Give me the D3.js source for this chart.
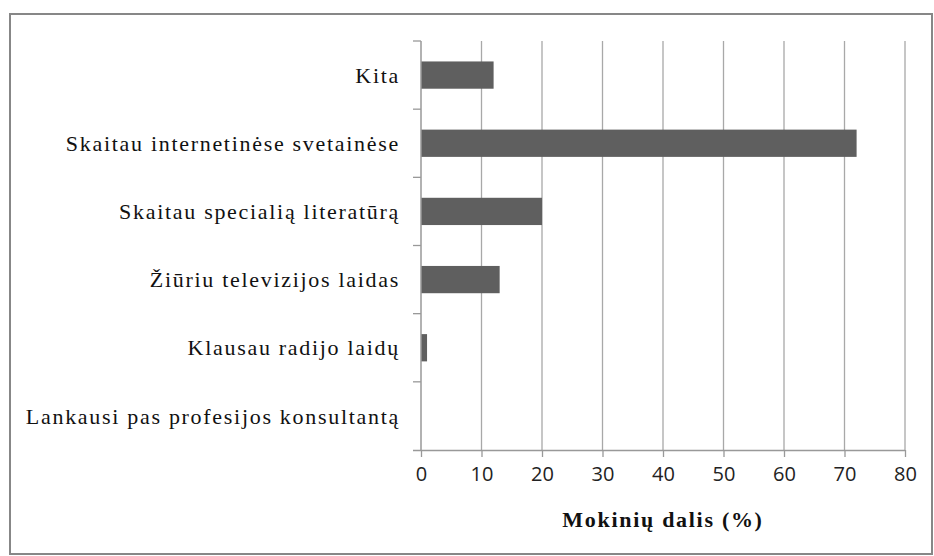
<!DOCTYPE html>
<html>
<head>
<meta charset="utf-8">
<script src="https://cdn.jsdelivr.net/npm/d3@7"></script>
<style>
  body { margin: 0; background: #fff; }
  svg { display: block; }
</style>
</head>
<body>
<div id="chart"></div>
<script>
const width = 934;
const height = 556;

// data, top to bottom as drawn
const categories = [
  "Kita",
  "Skaitau internetinėse svetainėse",
  "Skaitau specialią literatūrą",
  "Žiūriu televizijos laidas",
  "Klausau radijo laidų",
  "Lankausi pas profesijos konsultantą"
];
const values = [12, 72, 20, 13, 1, 0];
const xTicks = [0, 10, 20, 30, 40, 50, 60, 70, 80];
const xTitle = "Mokinių dalis (%)";

const serif = '"Liberation Serif", "Times New Roman", Times, "DejaVu Serif", serif';
const sans = '"Open Sans", "Liberation Sans", sans-serif';

const margin = { top: 41, left: 421, right: 29, bottom: 106 };

const svg = d3.select("#chart").append("svg")
  .attr("width", width)
  .attr("height", height);

// outer frame
svg.append("rect")
  .attr("x", 10).attr("y", 14)
  .attr("width", width - 12).attr("height", height - 16)
  .attr("fill", "none")
  .attr("stroke", "#878787")
  .attr("stroke-width", 2);

const x = d3.scaleLinear()
  .domain([0, 80])
  .range([margin.left, width - margin.right]);

const y = d3.scaleBand()
  .domain(categories)
  .range([margin.top, height - margin.bottom])
  .paddingInner(0.6)
  .paddingOuter(0.3);

const plotBottom = height - margin.bottom;

// vertical gridlines
svg.append("g")
  .selectAll("line")
  .data(xTicks.slice(1))
  .enter()
  .append("line")
  .attr("x1", (d) => x(d)).attr("x2", (d) => x(d))
  .attr("y1", margin.top).attr("y2", plotBottom)
  .attr("stroke", "#a8a8a8")
  .attr("stroke-width", 1.3);

// bars
svg.append("g")
  .selectAll("rect")
  .data(categories)
  .enter()
  .append("rect")
  .attr("x", x(0))
  .attr("y", (d) => y(d))
  .attr("width", (d, i) => x(values[i]) - x(0))
  .attr("height", y.bandwidth())
  .attr("fill", "#5f5f5f");

// x axis
const xAxis = svg.append("g")
  .attr("transform", `translate(0,${plotBottom})`)
  .call(d3.axisBottom(x).tickValues(xTicks).tickSize(7).tickPadding(10));
xAxis.attr("font-family", null).attr("font-size", null);
xAxis.select(".domain").attr("stroke", "#999").attr("stroke-width", 1.5)
  .attr("d", `M${x(0) - 8},0.5H${x(80)}`);
xAxis.selectAll(".tick line").attr("stroke", "#999").attr("stroke-width", 1.3);
xAxis.selectAll(".tick text")
  .style("font-family", sans)
  .style("font-size", "20px")
  .attr("fill", "#222");

// y axis, ticks at band borders
const bounds = d3.range(categories.length + 1).map((i) => margin.top + i * (plotBottom - margin.top) / categories.length);
svg.append("line")
  .attr("x1", x(0)).attr("x2", x(0))
  .attr("y1", margin.top).attr("y2", plotBottom)
  .attr("stroke", "#999").attr("stroke-width", 1.5);
svg.append("g")
  .selectAll("line")
  .data(bounds.slice(0, -1))
  .enter()
  .append("line")
  .attr("x1", x(0) - 8).attr("x2", x(0))
  .attr("y1", (d) => d).attr("y2", (d) => d)
  .attr("stroke", "#999").attr("stroke-width", 1.3);

// category labels
svg.append("g")
  .selectAll("text")
  .data(categories)
  .enter()
  .append("text")
  .attr("x", 400)
  .attr("y", (d) => y(d) + y.bandwidth() / 2)
  .attr("dy", "0.35em")
  .attr("text-anchor", "end")
  .style("font-family", serif)
  .style("font-size", "22px")
  .style("letter-spacing", "1.7px")
  .attr("fill", "#111")
  .text((d) => d);

// axis title
svg.append("text")
  .attr("x", (x(0) + x(80)) / 2)
  .attr("y", 527)
  .attr("text-anchor", "middle")
  .style("font-family", serif)
  .style("font-weight", "bold")
  .style("font-size", "22px")
  .style("letter-spacing", "1.7px")
  .attr("fill", "#111")
  .text(xTitle);
</script>
</body>
</html>
